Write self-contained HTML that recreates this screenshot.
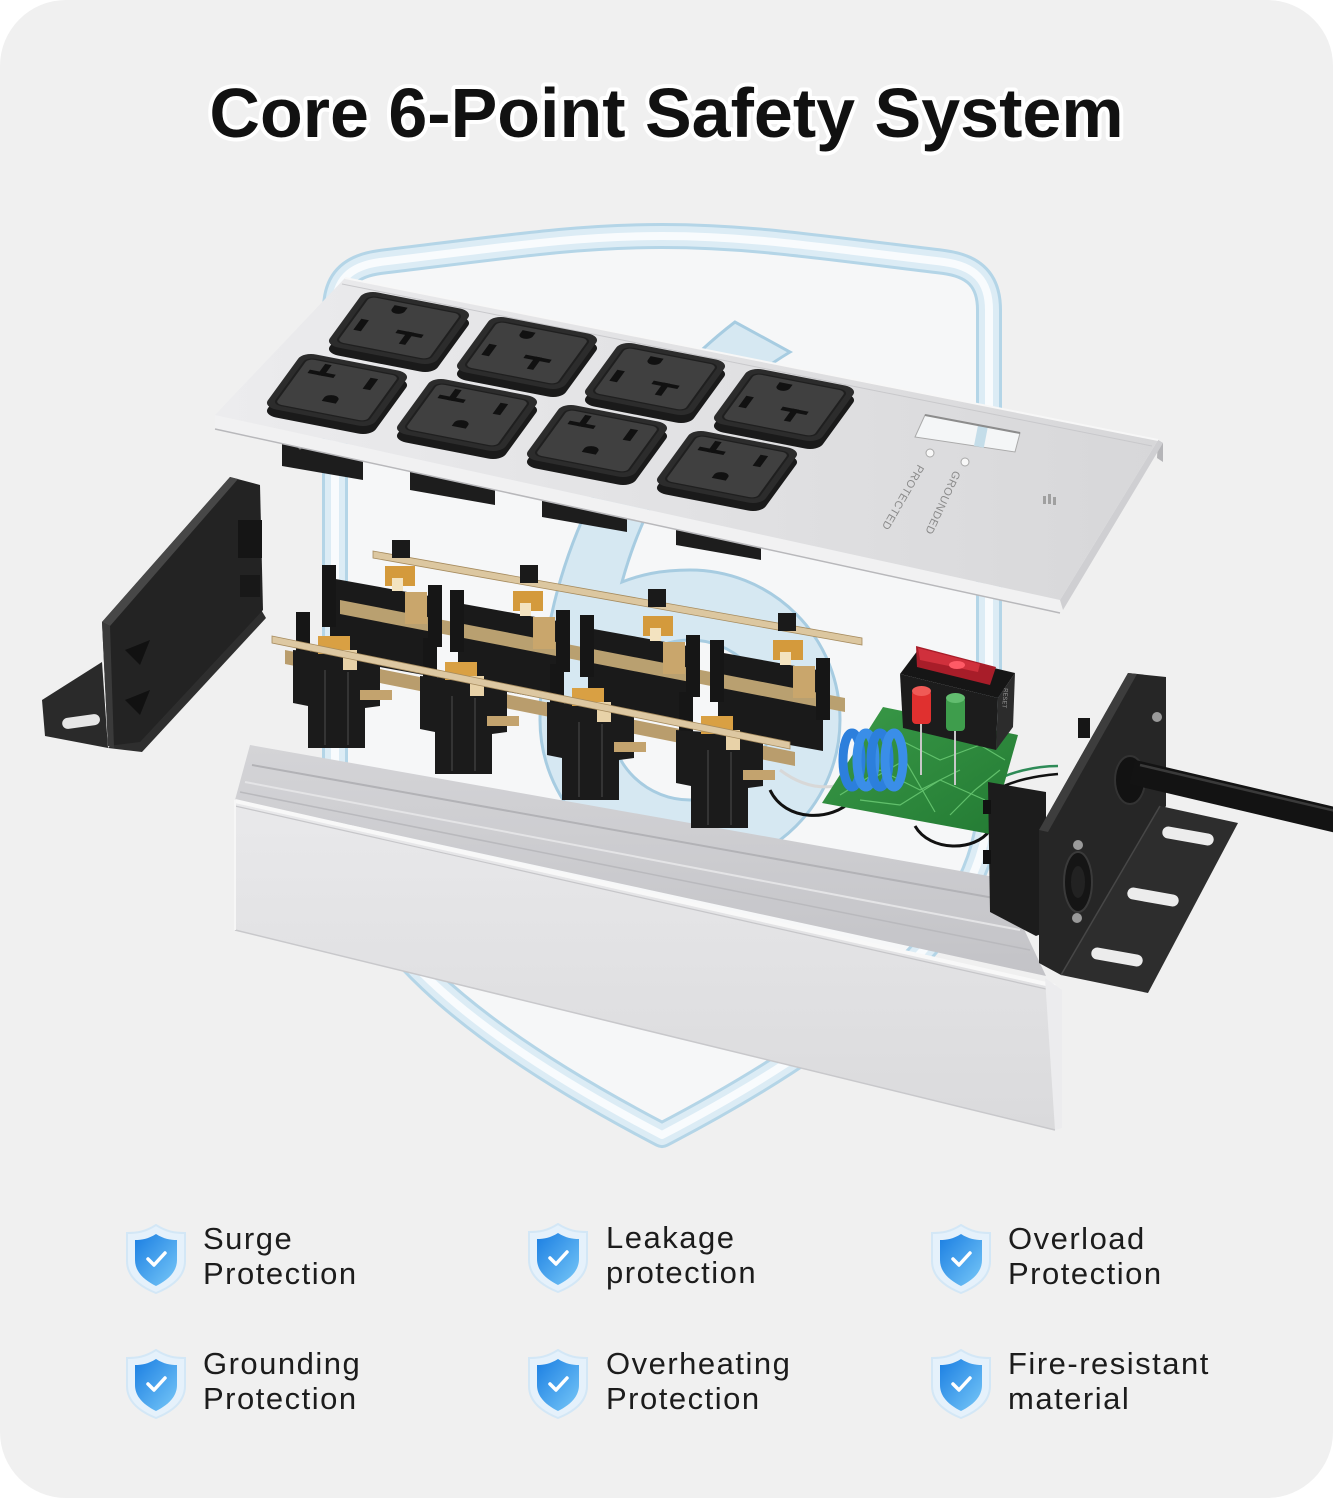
<!DOCTYPE html>
<html>
<head>
<meta charset="utf-8">
<style>
html,body{margin:0;padding:0;background:#ffffff;}
svg{display:block;}
</style>
</head>
<body>
<svg width="1333" height="1500" viewBox="0 0 1333 1500" xmlns="http://www.w3.org/2000/svg">
<defs>
  <linearGradient id="plateG" x1="0" y1="0" x2="1" y2="0">
    <stop offset="0" stop-color="#ececee"/><stop offset="1" stop-color="#d7d7d9"/>
  </linearGradient>
  <linearGradient id="wallG" x1="0" y1="0" x2="0" y2="1">
    <stop offset="0" stop-color="#e9e9eb"/><stop offset="1" stop-color="#dadadc"/>
  </linearGradient>
  <linearGradient id="inG" x1="0" y1="0" x2="0" y2="1">
    <stop offset="0" stop-color="#d4d4d7"/><stop offset="1" stop-color="#c3c3c7"/>
  </linearGradient>
  <linearGradient id="icoG" x1="0" y1="0" x2="1" y2="1">
    <stop offset="0" stop-color="#1a7ee2"/><stop offset="1" stop-color="#78c8f8"/>
  </linearGradient>
  <linearGradient id="pcbG" x1="0" y1="0" x2="1" y2="1">
    <stop offset="0" stop-color="#3a9a48"/><stop offset="1" stop-color="#237a33"/>
  </linearGradient>
</defs>

<!-- card -->
<rect x="0" y="0" width="1333" height="1498" rx="66" fill="#f0f0f0"/>

<!-- title -->
<text x="666.5" y="137" text-anchor="middle" font-family="Liberation Sans, Arial, sans-serif" font-weight="700" font-size="70" fill="#111" stroke="#ffffff" stroke-width="8" stroke-linejoin="round" paint-order="stroke">Core 6-Point Safety System</text>

<!-- big shield -->
<path d="M335,310 C335,280 350,266 380,262 C520,245 580,236 662,236 C744,236 804,245 944,262 C974,266 989,280 989,310 L989,800 C989,930 844,1040 662,1135 C480,1040 335,930 335,800 Z" fill="#f6f7f8"/>
<path d="M335,310 C335,280 350,266 380,262 C520,245 580,236 662,236 C744,236 804,245 944,262 C974,266 989,280 989,310 L989,800 C989,930 844,1040 662,1135 C480,1040 335,930 335,800 Z" fill="none" stroke="#b4d5e7" stroke-width="26" stroke-linejoin="round"/>
<path d="M335,310 C335,280 350,266 380,262 C520,245 580,236 662,236 C744,236 804,245 944,262 C974,266 989,280 989,310 L989,800 C989,930 844,1040 662,1135 C480,1040 335,930 335,800 Z" fill="none" stroke="#dcecf5" stroke-width="20" stroke-linejoin="round"/>
<path d="M335,310 C335,280 350,266 380,262 C520,245 580,236 662,236 C744,236 804,245 944,262 C974,266 989,280 989,310 L989,800 C989,930 844,1040 662,1135 C480,1040 335,930 335,800 Z" fill="none" stroke="#f8fbfd" stroke-width="8" stroke-linejoin="round"/>

<!-- big glass "6" -->
<path d="M735,322 C620,410 540,560 540,720 A150,150 0 0 0 840,720 A150,150 0 0 0 690,570 C660,570 640,575 622,582 C650,480 710,400 790,352 Z M770,720 A80,80 0 1 0 610,720 A80,80 0 1 0 770,720 Z" fill="#d3e7f2" fill-rule="evenodd" stroke="#9fc8df" stroke-width="3" opacity="0.9"/>

<!-- left bracket -->
<polygon points="42,700 102,662 108,748 45,736" fill="#2a2a2a"/>
<rect x="62" y="716" width="38" height="11" rx="5.5" fill="#e6e6e6" transform="rotate(-8 81 721)"/>
<polygon points="108,748 260,608 266,618 142,752" fill="#2e2e2e"/>
<polygon points="102,622 230,477 260,485 263,610 140,742 108,746" fill="#232323"/>
<polygon points="102,622 230,477 238,479 110,626" fill="#474747"/>
<polygon points="102,622 110,626 114,748 108,746" fill="#3a3a3a"/>
<rect x="238" y="520" width="24" height="38" fill="#151515"/>
<rect x="240" y="575" width="20" height="22" fill="#181818"/>
<polygon points="125,700 150,690 140,715" fill="#111"/>
<polygon points="125,650 150,640 140,665" fill="#111"/>

<!-- channel interior -->
<polygon points="250,745 1000,878 1046,976 235,800" fill="url(#inG)"/>
<line x1="252" y1="765" x2="1005" y2="900" stroke="#b2b2b6" stroke-width="2"/>
<line x1="245" y1="782" x2="1020" y2="930" stroke="#e4e4e6" stroke-width="2"/>
<line x1="240" y1="792" x2="1030" y2="950" stroke="#b9b9bd" stroke-width="1.5"/>

<!-- back gold strip -->
<polygon points="373,551 862,638 862,645 373,558" fill="#dcc7a0" stroke="#a68b5e" stroke-width="0.8"/>

<!-- back tabs above strip -->
<rect x="392" y="540" width="18" height="18" fill="#1a1a1a"/>
<rect x="520" y="565" width="18" height="18" fill="#1a1a1a"/>
<rect x="648" y="589" width="18" height="18" fill="#1a1a1a"/>
<rect x="778" y="613" width="18" height="18" fill="#1a1a1a"/>

<!-- back blocks -->
<polygon points="330,578 435,597 435,677 330,658" fill="#1a1a1a"/>
<polygon points="458,603 563,622 563,702 458,683" fill="#1a1a1a"/>
<polygon points="588,628 693,647 693,727 588,708" fill="#1a1a1a"/>
<polygon points="718,652 823,671 823,751 718,732" fill="#1a1a1a"/>

<!-- back wide band -->
<polygon points="340,600 845,698 845,712 340,614" fill="#b9a070"/>

<!-- posts -->
<rect x="322" y="565" width="14" height="62" fill="#161616"/>
<rect x="428" y="585" width="14" height="62" fill="#161616"/>
<rect x="450" y="590" width="14" height="62" fill="#161616"/>
<rect x="556" y="610" width="14" height="62" fill="#161616"/>
<rect x="580" y="615" width="14" height="62" fill="#161616"/>
<rect x="686" y="635" width="14" height="62" fill="#161616"/>
<rect x="710" y="640" width="14" height="62" fill="#161616"/>
<rect x="816" y="658" width="14" height="62" fill="#161616"/>

<!-- back contacts -->
<g>
  <rect x="385" y="566" width="30" height="20" fill="#d49a3c"/>
  <rect x="405" y="592" width="22" height="32" fill="#c9a66c"/>
  <rect x="392" y="578" width="11" height="13" fill="#f3e3c0"/>
  <rect x="513" y="591" width="30" height="20" fill="#d49a3c"/>
  <rect x="533" y="617" width="22" height="32" fill="#c9a66c"/>
  <rect x="520" y="603" width="11" height="13" fill="#f3e3c0"/>
  <rect x="643" y="616" width="30" height="20" fill="#d49a3c"/>
  <rect x="663" y="642" width="22" height="32" fill="#c9a66c"/>
  <rect x="650" y="628" width="11" height="13" fill="#f3e3c0"/>
  <rect x="773" y="640" width="30" height="20" fill="#d49a3c"/>
  <rect x="793" y="666" width="22" height="32" fill="#c9a66c"/>
  <rect x="780" y="652" width="11" height="13" fill="#f3e3c0"/>
</g>

<!-- front wide band (behind front blocks) -->
<polygon points="285,650 795,752 795,766 285,664" fill="#b99d6d"/>

<!-- front posts -->
<rect x="296" y="612" width="14" height="50" fill="#161616"/>
<rect x="423" y="638" width="14" height="50" fill="#161616"/>
<rect x="550" y="664" width="14" height="50" fill="#161616"/>
<rect x="679" y="692" width="14" height="50" fill="#161616"/>

<!-- front blocks -->
<g fill="#1b1b1b">
  <polygon points="293,650 380,656 380,706 365,708 365,748 308,748 308,706 293,703"/>
  <polygon points="420,676 507,682 507,732 492,734 492,774 435,774 435,732 420,729"/>
  <polygon points="547,702 634,708 634,758 619,760 619,800 562,800 562,758 547,755"/>
  <polygon points="676,730 763,736 763,786 748,788 748,828 691,828 691,786 676,783"/>
</g>
<g stroke="#343434" stroke-width="2">
  <line x1="325" y1="670" x2="325" y2="745"/><line x1="348" y1="672" x2="348" y2="745"/>
  <line x1="452" y1="696" x2="452" y2="771"/><line x1="475" y1="698" x2="475" y2="771"/>
  <line x1="579" y1="722" x2="579" y2="797"/><line x1="602" y1="724" x2="602" y2="797"/>
  <line x1="708" y1="750" x2="708" y2="825"/><line x1="731" y1="752" x2="731" y2="825"/>
</g>

<!-- front contacts -->
<g>
  <rect x="318" y="636" width="32" height="18" fill="#d9a043"/>
  <rect x="343" y="650" width="14" height="20" fill="#e8d2a8"/>
  <rect x="360" y="690" width="32" height="10" fill="#c3a36e"/>
  <rect x="445" y="662" width="32" height="18" fill="#d9a043"/>
  <rect x="470" y="676" width="14" height="20" fill="#e8d2a8"/>
  <rect x="487" y="716" width="32" height="10" fill="#c3a36e"/>
  <rect x="572" y="688" width="32" height="18" fill="#d9a043"/>
  <rect x="597" y="702" width="14" height="20" fill="#e8d2a8"/>
  <rect x="614" y="742" width="32" height="10" fill="#c3a36e"/>
  <rect x="701" y="716" width="32" height="18" fill="#d9a043"/>
  <rect x="726" y="730" width="14" height="20" fill="#e8d2a8"/>
  <rect x="743" y="770" width="32" height="10" fill="#c3a36e"/>
</g>

<!-- front thin strip -->
<polygon points="272,636 790,742 790,749 272,643" fill="#ddc8a2" stroke="#a68b5e" stroke-width="0.8"/>

<!-- wires -->
<path d="M770,790 C785,822 832,822 852,800" fill="none" stroke="#111" stroke-width="3"/>
<path d="M915,826 C930,852 975,852 990,830" fill="none" stroke="#111" stroke-width="3"/>
<path d="M780,770 C800,785 820,790 840,785" fill="none" stroke="#d8d8d8" stroke-width="3"/>
<path d="M990,783 C1010,772 1035,766 1058,766" fill="none" stroke="#2e8b57" stroke-width="2.5"/>
<path d="M995,790 C1015,780 1035,776 1058,774" fill="none" stroke="#111" stroke-width="2.5"/>

<!-- PCB -->
<polygon points="883,707 1018,735 990,834 822,803" fill="url(#pcbG)"/>
<g stroke="#6fcf78" stroke-width="1.2" fill="none" opacity="0.8">
  <path d="M840,795 L880,770 L920,790 L960,770"/>
  <path d="M860,800 L900,805 L940,780 L985,800"/>
  <path d="M900,740 L940,760 L980,745 L1005,760"/>
  <path d="M870,780 L905,760 L935,812"/>
  <path d="M950,815 L975,790 L1000,770"/>
</g>

<!-- coil -->
<g fill="none" stroke-width="9">
  <ellipse cx="852" cy="760" rx="9" ry="27" stroke="#2c7fdc"/>
  <ellipse cx="866" cy="760" rx="9" ry="27" stroke="#3a8ee8"/>
  <ellipse cx="880" cy="760" rx="9" ry="27" stroke="#2c7fdc"/>
  <ellipse cx="894" cy="760" rx="9" ry="27" stroke="#3a8ee8"/>
</g>

<!-- switch -->
<polygon points="900,674 998,698 996,750 903,728" fill="#1c1c1c"/>
<polygon points="998,698 1015,673 1013,727 996,750" fill="#2c2c2c"/>
<polygon points="900,674 918,650 1015,673 998,698" fill="#161616"/>
<polygon points="916,646 996,667 990,685 917,667" fill="#a81d29"/>
<polygon points="918,648 980,664 978,672 920,660" fill="#d0303c"/>
<ellipse cx="957" cy="665" rx="8" ry="4" fill="#ff5a66"/>
<text transform="translate(1004,688) rotate(95)" font-family="Liberation Sans, Arial, sans-serif" font-size="6" fill="#9a9a9a">RESET</text>

<!-- LEDs -->
<line x1="921" y1="722" x2="921" y2="775" stroke="#c8c8c8" stroke-width="2"/>
<line x1="955" y1="729" x2="955" y2="785" stroke="#c8c8c8" stroke-width="2"/>
<rect x="912" y="690" width="19" height="34" rx="4" fill="#e0302f"/>
<ellipse cx="921.5" cy="691" rx="9.5" ry="5" fill="#f05a56"/>
<rect x="946" y="697" width="19" height="34" rx="4" fill="#3e9d4c"/>
<ellipse cx="955.5" cy="698" rx="9.5" ry="5" fill="#62bd6f"/>

<!-- channel front wall -->
<polygon points="235,800 1055,985 1055,1130 235,930" fill="url(#wallG)"/>
<line x1="235" y1="801" x2="1055" y2="986" stroke="#f8f8f8" stroke-width="4"/>
<line x1="235" y1="806" x2="1055" y2="991" stroke="#c6c6c9" stroke-width="1.2"/>
<line x1="235" y1="930" x2="1055" y2="1130" stroke="#c8c8cb" stroke-width="1.5"/>
<line x1="235" y1="800" x2="235" y2="930" stroke="#f6f6f6" stroke-width="2"/>
<polygon points="1045,978 1062,990 1062,1128 1055,1130" fill="#ececee"/>

<!-- right bracket -->
<polygon points="988,782 1046,792 1046,932 1036,936 990,912" fill="#1c1c1c"/>
<rect x="983" y="800" width="8" height="14" fill="#111"/>
<rect x="983" y="850" width="8" height="14" fill="#111"/>
<polygon points="1128,673 1166,677 1166,806 1061,975 1039,963 1039,830" fill="#262626"/>
<polygon points="1128,673 1137,674 1048,832 1039,830" fill="#3d3d3d"/>
<polygon points="1160,806 1238,823 1148,993 1061,975" fill="#2d2d2d"/>
<line x1="1061" y1="975" x2="1160" y2="806" stroke="#474747" stroke-width="1.5"/>
<rect x="-26" y="-6" width="52" height="12" rx="6" fill="#ececec" transform="translate(1188,836) rotate(10)"/>
<rect x="-26" y="-6" width="52" height="12" rx="6" fill="#ececec" transform="translate(1153,897) rotate(10)"/>
<rect x="-26" y="-6" width="52" height="12" rx="6" fill="#ececec" transform="translate(1117,957) rotate(10)"/>
<ellipse cx="1078" cy="882" rx="14" ry="30" fill="#151515" stroke="#3a3a3a" stroke-width="2"/>
<ellipse cx="1078" cy="882" rx="7" ry="16" fill="#222"/>
<circle cx="1157" cy="717" r="5" fill="#9a9a9a"/>
<circle cx="1078" cy="845" r="5" fill="#9a9a9a"/>
<circle cx="1077" cy="918" r="5" fill="#9a9a9a"/>
<rect x="1078" y="718" width="12" height="20" fill="#161616"/>
<ellipse cx="1130" cy="780" rx="15" ry="24" fill="#121212" stroke="#333" stroke-width="2"/>

<!-- cord -->
<line x1="1132" y1="772" x2="1340" y2="821" stroke="#131313" stroke-width="25"/>
<line x1="1140" y1="765" x2="1340" y2="812" stroke="#3a3a3a" stroke-width="2.5"/>

<!-- clips under plate -->
<g fill="#1d1d1d">
  <polygon points="282,443 363,457 363,480 282,466"/>
  <polygon points="410,468 495,483 495,505 410,490"/>
  <polygon points="542,495 627,510 627,532 542,517"/>
  <polygon points="676,522 761,537 761,560 676,545"/>
</g>
<g fill="#777">
  <circle cx="300" cy="448" r="1.5"/><circle cx="345" cy="456" r="1.5"/>
  <circle cx="430" cy="474" r="1.5"/><circle cx="478" cy="482" r="1.5"/>
  <circle cx="562" cy="501" r="1.5"/><circle cx="610" cy="509" r="1.5"/>
  <circle cx="696" cy="528" r="1.5"/><circle cx="744" cy="536" r="1.5"/>
</g>

<!-- top plate -->
<polygon points="215,415 1060,600 1060,613 215,429" fill="#f1f1f2"/>
<line x1="215" y1="429" x2="1060" y2="613" stroke="#b8b8bb" stroke-width="1.5"/>
<polygon points="1158,440 1163,443 1163,462 1157,458" fill="#b5b5b8"/>
<polygon points="1060,600 1158,440 1163,443 1063,610" fill="#cfcfd2"/>
<polygon points="345,278 1158,440 1060,600 215,415" fill="url(#plateG)"/>
<line x1="345" y1="278" x2="1158" y2="440" stroke="#f7f7f7" stroke-width="2"/>
<line x1="342" y1="284" x2="1152" y2="446" stroke="#c8c8cb" stroke-width="1"/>

<!-- window, dots, text -->
<polygon points="925,415 1020,433 1015,452 915,437" fill="#f4f6f7" stroke="#aaaaaa" stroke-width="1"/>
<rect x="976" y="425" width="10" height="22" fill="#c4dde9" transform="rotate(11 981 436)"/>
<line x1="925" y1="415" x2="1020" y2="433" stroke="#8c8c8c" stroke-width="2"/>
<circle cx="930" cy="453" r="4" fill="#f8f8f8" stroke="#a8a8a8" stroke-width="1"/>
<circle cx="965" cy="462" r="4" fill="#f8f8f8" stroke="#a8a8a8" stroke-width="1"/>
<text transform="translate(918,464) rotate(120)" font-family="Liberation Sans, Arial, sans-serif" font-size="11" fill="#8a8a8a" letter-spacing="0.6">PROTECTED</text>
<text transform="translate(954,470) rotate(115)" font-family="Liberation Sans, Arial, sans-serif" font-size="11" fill="#8a8a8a" letter-spacing="0.6">GROUNDED</text>
<g fill="#a0a0a0"><rect x="1043" y="496" width="3" height="8"/><rect x="1048" y="494" width="3" height="10"/><rect x="1053" y="497" width="3" height="8"/></g>

<!-- sockets: top row -->
<g>
  <rect transform="translate(365,298) matrix(1.08 .21 -.4 .55 0 0)" width="100" height="100" rx="12" fill="#1a1a1a"/>
  <g transform="translate(365,290) matrix(1.08 .21 -.4 .55 0 0)">
    <rect width="100" height="100" rx="12" fill="#2c2c2c"/>
    <rect x="7" y="8" width="86" height="84" rx="7" fill="#404040" stroke="#1f1f1f" stroke-width="2"/>
    <g fill="#111"><path d="M33 15 h12 v7 a6 6 0 0 1 -12 0 z"/><rect x="14" y="47" width="7" height="20"/><rect x="50" y="53" width="24" height="6"/><rect x="59" y="53" width="6" height="22"/></g>
  </g>
  <rect transform="translate(493,323) matrix(1.08 .21 -.4 .55 0 0)" width="100" height="100" rx="12" fill="#1a1a1a"/>
  <g transform="translate(493,315) matrix(1.08 .21 -.4 .55 0 0)">
    <rect width="100" height="100" rx="12" fill="#2c2c2c"/>
    <rect x="7" y="8" width="86" height="84" rx="7" fill="#404040" stroke="#1f1f1f" stroke-width="2"/>
    <g fill="#111"><path d="M33 15 h12 v7 a6 6 0 0 1 -12 0 z"/><rect x="14" y="47" width="7" height="20"/><rect x="50" y="53" width="24" height="6"/><rect x="59" y="53" width="6" height="22"/></g>
  </g>
  <rect transform="translate(621,349) matrix(1.08 .21 -.4 .55 0 0)" width="100" height="100" rx="12" fill="#1a1a1a"/>
  <g transform="translate(621,341) matrix(1.08 .21 -.4 .55 0 0)">
    <rect width="100" height="100" rx="12" fill="#2c2c2c"/>
    <rect x="7" y="8" width="86" height="84" rx="7" fill="#404040" stroke="#1f1f1f" stroke-width="2"/>
    <g fill="#111"><path d="M33 15 h12 v7 a6 6 0 0 1 -12 0 z"/><rect x="14" y="47" width="7" height="20"/><rect x="50" y="53" width="24" height="6"/><rect x="59" y="53" width="6" height="22"/></g>
  </g>
  <rect transform="translate(750,375) matrix(1.08 .21 -.4 .55 0 0)" width="100" height="100" rx="12" fill="#1a1a1a"/>
  <g transform="translate(750,367) matrix(1.08 .21 -.4 .55 0 0)">
    <rect width="100" height="100" rx="12" fill="#2c2c2c"/>
    <rect x="7" y="8" width="86" height="84" rx="7" fill="#404040" stroke="#1f1f1f" stroke-width="2"/>
    <g fill="#111"><path d="M33 15 h12 v7 a6 6 0 0 1 -12 0 z"/><rect x="14" y="47" width="7" height="20"/><rect x="50" y="53" width="24" height="6"/><rect x="59" y="53" width="6" height="22"/></g>
  </g>
</g>

<!-- sockets: bottom row -->
<g>
  <rect transform="translate(303,360) matrix(1.08 .21 -.4 .55 0 0)" width="100" height="100" rx="12" fill="#1a1a1a"/>
  <g transform="translate(303,352) matrix(1.08 .21 -.4 .55 0 0)">
    <rect width="100" height="100" rx="12" fill="#2c2c2c"/>
    <rect x="7" y="8" width="86" height="84" rx="7" fill="#404040" stroke="#1f1f1f" stroke-width="2"/>
    <g fill="#111"><rect x="16" y="26" width="24" height="6"/><rect x="25" y="12" width="6" height="20"/><rect x="70" y="20" width="7" height="20"/><path d="M44 72 h13 v-6 a6.5 6.5 0 0 0 -13 0 z"/></g>
  </g>
  <rect transform="translate(433,385) matrix(1.08 .21 -.4 .55 0 0)" width="100" height="100" rx="12" fill="#1a1a1a"/>
  <g transform="translate(433,377) matrix(1.08 .21 -.4 .55 0 0)">
    <rect width="100" height="100" rx="12" fill="#2c2c2c"/>
    <rect x="7" y="8" width="86" height="84" rx="7" fill="#404040" stroke="#1f1f1f" stroke-width="2"/>
    <g fill="#111"><rect x="16" y="26" width="24" height="6"/><rect x="25" y="12" width="6" height="20"/><rect x="70" y="20" width="7" height="20"/><path d="M44 72 h13 v-6 a6.5 6.5 0 0 0 -13 0 z"/></g>
  </g>
  <rect transform="translate(563,411) matrix(1.08 .21 -.4 .55 0 0)" width="100" height="100" rx="12" fill="#1a1a1a"/>
  <g transform="translate(563,403) matrix(1.08 .21 -.4 .55 0 0)">
    <rect width="100" height="100" rx="12" fill="#2c2c2c"/>
    <rect x="7" y="8" width="86" height="84" rx="7" fill="#404040" stroke="#1f1f1f" stroke-width="2"/>
    <g fill="#111"><rect x="16" y="26" width="24" height="6"/><rect x="25" y="12" width="6" height="20"/><rect x="70" y="20" width="7" height="20"/><path d="M44 72 h13 v-6 a6.5 6.5 0 0 0 -13 0 z"/></g>
  </g>
  <rect transform="translate(693,437) matrix(1.08 .21 -.4 .55 0 0)" width="100" height="100" rx="12" fill="#1a1a1a"/>
  <g transform="translate(693,429) matrix(1.08 .21 -.4 .55 0 0)">
    <rect width="100" height="100" rx="12" fill="#2c2c2c"/>
    <rect x="7" y="8" width="86" height="84" rx="7" fill="#404040" stroke="#1f1f1f" stroke-width="2"/>
    <g fill="#111"><rect x="16" y="26" width="24" height="6"/><rect x="25" y="12" width="6" height="20"/><rect x="70" y="20" width="7" height="20"/><path d="M44 72 h13 v-6 a6.5 6.5 0 0 0 -13 0 z"/></g>
  </g>
</g>

<!-- feature icons -->
<g transform="translate(156,1258)">
  <path d="M0,-33 C11,-26 19,-25 29,-25 L29,3 C29,19 15,29 0,35 C-15,29 -29,19 -29,3 L-29,-25 C-19,-25 -11,-26 0,-33 Z" fill="#e5f1fb" stroke="#d3e7f6" stroke-width="2"/>
  <path d="M0,-24 C8,-19 14,-18 21,-18 L21,2 C21,15 10,23 0,28 C-10,23 -21,15 -21,2 L-21,-18 C-14,-18 -8,-19 0,-24 Z" fill="url(#icoG)"/>
  <polyline points="-8,1 -2,7 9,-5" fill="none" stroke="#fff" stroke-width="3.5" stroke-linecap="round" stroke-linejoin="round"/>
</g>
<g transform="translate(558,1257)">
  <path d="M0,-33 C11,-26 19,-25 29,-25 L29,3 C29,19 15,29 0,35 C-15,29 -29,19 -29,3 L-29,-25 C-19,-25 -11,-26 0,-33 Z" fill="#e5f1fb" stroke="#d3e7f6" stroke-width="2"/>
  <path d="M0,-24 C8,-19 14,-18 21,-18 L21,2 C21,15 10,23 0,28 C-10,23 -21,15 -21,2 L-21,-18 C-14,-18 -8,-19 0,-24 Z" fill="url(#icoG)"/>
  <polyline points="-8,1 -2,7 9,-5" fill="none" stroke="#fff" stroke-width="3.5" stroke-linecap="round" stroke-linejoin="round"/>
</g>
<g transform="translate(961,1258)">
  <path d="M0,-33 C11,-26 19,-25 29,-25 L29,3 C29,19 15,29 0,35 C-15,29 -29,19 -29,3 L-29,-25 C-19,-25 -11,-26 0,-33 Z" fill="#e5f1fb" stroke="#d3e7f6" stroke-width="2"/>
  <path d="M0,-24 C8,-19 14,-18 21,-18 L21,2 C21,15 10,23 0,28 C-10,23 -21,15 -21,2 L-21,-18 C-14,-18 -8,-19 0,-24 Z" fill="url(#icoG)"/>
  <polyline points="-8,1 -2,7 9,-5" fill="none" stroke="#fff" stroke-width="3.5" stroke-linecap="round" stroke-linejoin="round"/>
</g>
<g transform="translate(156,1383)">
  <path d="M0,-33 C11,-26 19,-25 29,-25 L29,3 C29,19 15,29 0,35 C-15,29 -29,19 -29,3 L-29,-25 C-19,-25 -11,-26 0,-33 Z" fill="#e5f1fb" stroke="#d3e7f6" stroke-width="2"/>
  <path d="M0,-24 C8,-19 14,-18 21,-18 L21,2 C21,15 10,23 0,28 C-10,23 -21,15 -21,2 L-21,-18 C-14,-18 -8,-19 0,-24 Z" fill="url(#icoG)"/>
  <polyline points="-8,1 -2,7 9,-5" fill="none" stroke="#fff" stroke-width="3.5" stroke-linecap="round" stroke-linejoin="round"/>
</g>
<g transform="translate(558,1383)">
  <path d="M0,-33 C11,-26 19,-25 29,-25 L29,3 C29,19 15,29 0,35 C-15,29 -29,19 -29,3 L-29,-25 C-19,-25 -11,-26 0,-33 Z" fill="#e5f1fb" stroke="#d3e7f6" stroke-width="2"/>
  <path d="M0,-24 C8,-19 14,-18 21,-18 L21,2 C21,15 10,23 0,28 C-10,23 -21,15 -21,2 L-21,-18 C-14,-18 -8,-19 0,-24 Z" fill="url(#icoG)"/>
  <polyline points="-8,1 -2,7 9,-5" fill="none" stroke="#fff" stroke-width="3.5" stroke-linecap="round" stroke-linejoin="round"/>
</g>
<g transform="translate(961,1383)">
  <path d="M0,-33 C11,-26 19,-25 29,-25 L29,3 C29,19 15,29 0,35 C-15,29 -29,19 -29,3 L-29,-25 C-19,-25 -11,-26 0,-33 Z" fill="#e5f1fb" stroke="#d3e7f6" stroke-width="2"/>
  <path d="M0,-24 C8,-19 14,-18 21,-18 L21,2 C21,15 10,23 0,28 C-10,23 -21,15 -21,2 L-21,-18 C-14,-18 -8,-19 0,-24 Z" fill="url(#icoG)"/>
  <polyline points="-8,1 -2,7 9,-5" fill="none" stroke="#fff" stroke-width="3.5" stroke-linecap="round" stroke-linejoin="round"/>
</g>

<!-- feature labels -->
<g font-family="Liberation Sans, Arial, sans-serif" font-size="31" letter-spacing="1.5" fill="#1c1c1c">
  <text><tspan x="203" y="1249">Surge</tspan><tspan x="203" y="1284">Protection</tspan></text>
  <text><tspan x="606" y="1248">Leakage</tspan><tspan x="606" y="1283">protection</tspan></text>
  <text><tspan x="1008" y="1249">Overload</tspan><tspan x="1008" y="1284">Protection</tspan></text>
  <text><tspan x="203" y="1374">Grounding</tspan><tspan x="203" y="1409">Protection</tspan></text>
  <text><tspan x="606" y="1374">Overheating</tspan><tspan x="606" y="1409">Protection</tspan></text>
  <text><tspan x="1008" y="1374">Fire-resistant</tspan><tspan x="1008" y="1409">material</tspan></text>
</g>
</svg>
</body>
</html>
